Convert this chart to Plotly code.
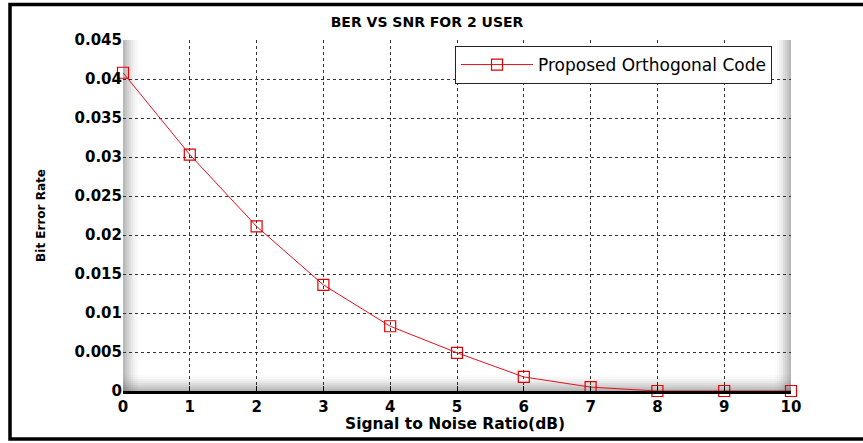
import plotly.graph_objects as go

snr_db = [0, 1, 2, 3, 4, 5, 6, 7, 8, 9, 10]
ber = [0.0408, 0.0303, 0.0211, 0.0136, 0.0083, 0.0049, 0.0018, 0.0005, 0.0, 0.0, 0.0]
series_name = "Proposed Orthogonal Code"
x_ticks = list(range(0, 11))
y_ticks = [0, 0.005, 0.01, 0.015, 0.02, 0.025, 0.03, 0.035, 0.04, 0.045]
y_tick_text = ["0", "0.005", "0.01", "0.015", "0.02", "0.025", "0.03", "0.035", "0.04", "0.045"]

W, H = 863, 443
L, R, T, B = 123, 72, 40, 52
pw, ph = W - L - R, H - T - B

def px_x(p):
    return (p - L) / pw

def px_y(p):
    return (H - B - p) / ph

fig = go.Figure()
fig.add_trace(go.Scatter(
    x=snr_db, y=ber, mode="lines+markers", name=series_name,
    line=dict(color="#e8101a", width=1),
    marker=dict(symbol="square-open", size=11, color="#e00000", line=dict(width=1.2)),
    cliponaxis=False,
))

shapes = []
# edge shading inside plot area (gradient imitation)
for i in range(8):
    op = 0.11 * (1 - i / 8)
    d = i * 2
    shapes.append(dict(type="rect", xref="paper", yref="paper",
                       x0=0, x1=px_x(L + d + 2), y0=0, y1=1,
                       fillcolor=f"rgba(90,90,90,{op:.3f})", line=dict(width=0), layer="below"))
    shapes.append(dict(type="rect", xref="paper", yref="paper",
                       x0=px_x(L + pw - d - 2), x1=1, y0=0, y1=1,
                       fillcolor=f"rgba(90,90,90,{op:.3f})", line=dict(width=0), layer="below"))
    shapes.append(dict(type="rect", xref="paper", yref="paper",
                       x0=0, x1=1, y0=0, y1=px_y(H - B - d - 2),
                       fillcolor=f"rgba(90,90,90,{op:.3f})", line=dict(width=0), layer="below"))
# outer black frame
shapes.append(dict(type="rect", xref="paper", yref="paper",
                   x0=px_x(10), x1=px_x(880), y0=px_y(439), y1=px_y(4.5),
                   line=dict(color="black", width=3.5), fillcolor="rgba(0,0,0,0)"))

font_b = "DejaVu Sans, sans-serif"

fig.update_layout(
    width=W, height=H,
    margin=dict(l=L, r=R, t=T, b=B),
    paper_bgcolor="white", plot_bgcolor="white",
    shapes=shapes,
    title=dict(text="<b>BER VS SNR FOR 2 USER</b>", x=427 / W, xanchor="center",
               y=1 - 22 / H, yanchor="middle",
               font=dict(family=font_b, size=14, color="black")),
    annotations=[dict(text="<b>Signal to Noise Ratio(dB)</b>", xref="paper", yref="paper",
                      x=px_x(455), y=px_y(424), xanchor="center", yanchor="middle",
                      showarrow=False, font=dict(family=font_b, size=15.5, color="black"))],
    showlegend=True,
    legend=dict(x=px_x(455), y=px_y(46), xanchor="left", yanchor="top",
                bgcolor="white", bordercolor="#222", borderwidth=1,
                font=dict(family=font_b, size=17, color="black"),
                itemwidth=72, tracegroupgap=0),
    xaxis=dict(range=[0, 10], tickvals=x_ticks, ticks="inside", ticklen=5, tickcolor="black",
               showgrid=True, gridcolor="#333", griddash="dot", gridwidth=1,
               showline=True, linecolor="black", linewidth=2.5, mirror=False,
               zeroline=False,
               tickfont=dict(family=font_b, size=15, color="black", weight="bold")),
    yaxis=dict(range=[0, 0.045], tickvals=y_ticks, ticktext=y_tick_text,
               ticks="", showgrid=True, gridcolor="#333", griddash="dot", gridwidth=1,
               showline=False, zeroline=False,
               tickfont=dict(family=font_b, size=15, color="black", weight="bold"),
               title=dict(text="<b>Bit Error Rate</b>", standoff=26,
                          font=dict(family=font_b, size=12, color="black"))),
)

fig.write_html("out.html", config={"displayModeBar": False},
               post_script="document.body.style.margin='0';")
